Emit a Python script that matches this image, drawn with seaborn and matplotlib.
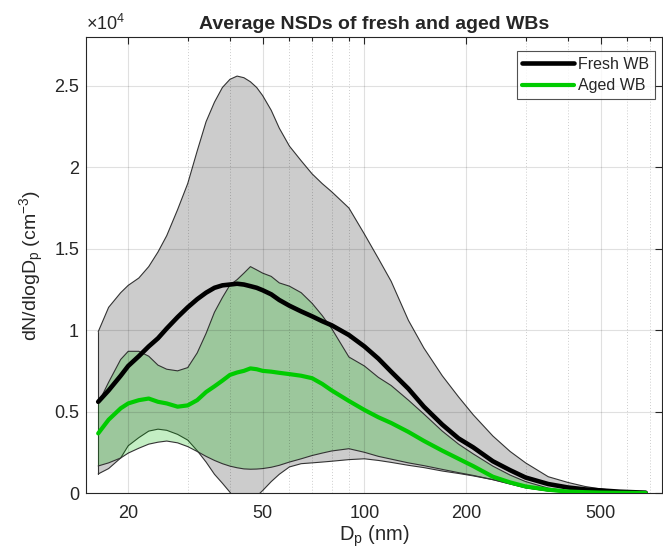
import numpy as np
import pandas as pd
import matplotlib
matplotlib.use("Agg")
import matplotlib.pyplot as plt
import seaborn as sns
from matplotlib.ticker import FixedLocator, NullFormatter
from matplotlib.lines import Line2D

# ---- data ----
dp = [16.3, 17.5, 19, 20, 21.5, 23, 24.5, 26, 28, 30, 32, 34, 36, 38, 40, 42, 44, 46, 48, 50,
      53, 56, 60, 65, 70, 75, 80, 90, 100, 110, 120, 135, 150, 170, 190, 210, 240, 270, 300,
      350, 400, 450, 500, 570, 680]
fresh_mean = [5600, 6300, 7200, 7800, 8400, 9000, 9500, 10100, 10800, 11400, 11900, 12300, 12600,
              12750, 12800, 12850, 12800, 12700, 12600, 12450, 12200, 11850, 11500, 11150, 10850,
              10550, 10300, 9700, 9000, 8250, 7450, 6400, 5300, 4200, 3350, 2800, 1950, 1400, 950,
              550, 340, 220, 160, 80, 20]
fresh_upper = [9900, 11400, 12300, 12750, 13200, 13900, 14800, 15800, 17400, 19000, 21000, 22800,
               24000, 24900, 25400, 25600, 25500, 25250, 24900, 24400, 23500, 22400, 21300, 20400,
               19600, 19000, 18500, 17500, 15900, 14400, 13000, 10600, 8900, 7200, 5900, 4800, 3500,
               2550, 1850, 1000, 650, 400, 250, 120, 20]
fresh_lower = [1170, 1500, 2150, 2900, 3400, 3800, 3920, 3850, 3600, 3250, 2600, 1900, 1150, 600,
               50, -600, -900, -700, -200, 150, 700, 1150, 1600, 1800, 1850, 1900, 1950, 2050, 2100,
               2000, 1880, 1700, 1560, 1350, 1200, 1050, 820, 550, 320, 130, 50, 20, 10, 5, 0]
aged_mean = [3660, 4500, 5200, 5500, 5700, 5800, 5600, 5500, 5300, 5380, 5700, 6200, 6550, 6900,
             7250, 7400, 7500, 7650, 7600, 7500, 7450, 7380, 7300, 7200, 7050, 6700, 6300, 5650,
             5100, 4650, 4300, 3750, 3200, 2600, 2100, 1650, 1000, 650, 400, 200, 90, 50, 25, 10, 0]
aged_upper = [5500, 6800, 8200, 8700, 8700, 8400, 7850, 7600, 7500, 7700, 8600, 9800, 11100, 12000,
              12770, 13100, 13500, 13900, 13700, 13500, 13300, 12900, 12700, 12300, 11650, 10900,
              10100, 8350, 7800, 7100, 6600, 5700, 4850, 3800, 3000, 2400, 1650, 1100, 700, 300,
              120, 60, 30, 10, 0]
aged_lower = [1660, 1850, 2150, 2450, 2750, 3000, 3120, 3190, 3080, 2850, 2550, 2250, 2000, 1800,
              1650, 1550, 1480, 1460, 1470, 1500, 1580, 1700, 1900, 2100, 2300, 2450, 2580, 2720,
              2500, 2250, 2080, 1850, 1680, 1450, 1250, 1080, 820, 560, 320, 120, 40, 15, 8, 3, 0]

xticks = [20, 50, 100, 200, 500]
xtick_labels = ["20", "50", "100", "200", "500"]
yticks = [0, 5000, 10000, 15000, 20000, 25000]
ytick_labels = ["0", "0.5", "1", "1.5", "2", "2.5"]
series_names = ["Fresh WB", "Aged WB"]

# ---- styling ----
sns.set_theme(style="white")
plt.rcParams["font.family"] = ["Liberation Sans", "DejaVu Sans"]
plt.rcParams["mathtext.default"] = "regular"
TXT = (0.15, 0.15, 0.15)
EDGE = (0.2, 0.2, 0.2)

fig = plt.figure(figsize=(6.63, 5.57), dpi=100)
ax = fig.add_axes([86 / 663, (557 - 493) / 557, (662 - 86) / 663, (493 - 37) / 557])

x = np.array(dp)
# grey band (fresh)
ax.fill_between(x, fresh_lower, fresh_upper, facecolor=(0.8, 0.8, 0.8), edgecolor="none", zorder=1)
ax.plot(x, fresh_upper, color=EDGE, lw=0.8, zorder=1.1)
ax.plot(x, fresh_lower, color=EDGE, lw=0.8, zorder=1.1)
ax.plot([x[0], x[0]], [fresh_lower[0], fresh_upper[0]], color=EDGE, lw=0.8, zorder=1.1)
# green band (aged)
ax.fill_between(x, aged_lower, aged_upper, facecolor=(0.0, 0.72, 0.0), alpha=0.23,
                edgecolor="none", zorder=1.2)
ax.plot(x, aged_upper, color=EDGE, lw=0.8, zorder=1.3)
ax.plot(x, aged_lower, color=EDGE, lw=0.8, zorder=1.3)

df = pd.DataFrame({
    "Dp": dp * 2,
    "N": fresh_mean + aged_mean,
    "type": [series_names[0]] * len(dp) + [series_names[1]] * len(dp),
})
sns.lineplot(data=df, x="Dp", y="N", hue="type", palette=["black", "#00cc00"],
             linewidth=3.0, ax=ax, zorder=3, legend=False)
ax.lines[-2].set_linewidth(3.3)

ax.set_xscale("log")
ax.set_xlim(15, 760)
ax.set_ylim(0, 28000)

ax.xaxis.set_major_locator(FixedLocator(xticks))
ax.set_xticklabels(xtick_labels)
minor = [30, 40, 60, 70, 80, 90, 300, 400, 600, 700]
ax.xaxis.set_minor_locator(FixedLocator(minor))
ax.xaxis.set_minor_formatter(NullFormatter())
ax.set_yticks(yticks)
ax.set_yticklabels(ytick_labels)

ax.set_axisbelow(False)
ax.grid(True, which="major", axis="both", color="black", alpha=0.12, lw=0.8, linestyle="-")
ax.grid(True, which="minor", axis="x", color="black", alpha=0.2, lw=0.7, linestyle=(0, (1, 2)))

ax.tick_params(axis="both", which="both", direction="in", top=True, right=True,
               labelsize=13, colors=TXT, length=5, width=0.8)
ax.tick_params(axis="x", which="minor", length=3)
ax.tick_params(axis="x", which="major", pad=9)
ax.tick_params(axis="y", which="major", pad=5)
for s in ax.spines.values():
    s.set_color(TXT)
    s.set_linewidth(0.8)

ax.set_xlabel("D$_p$ (nm)", fontsize=14.5, color=TXT, labelpad=1)
ax.set_ylabel("dN/dlogD$_p$ (cm$^{-3}$)", fontsize=14, color=TXT, labelpad=6)
ax.set_title("Average NSDs of fresh and aged WBs", fontsize=14, fontweight="bold", pad=6)
ax.text(0.0, 1.006, r"$\times$10$^4$", transform=ax.transAxes, fontsize=13,
        color=TXT, ha="left", va="bottom")

handles = [Line2D([], [], color="black", lw=3.3), Line2D([], [], color="#00cc00", lw=3.0)]
leg = ax.legend(handles, series_names, loc="upper right", bbox_to_anchor=(0.988, 0.969),
                fontsize=11.5, frameon=True, fancybox=False, handlelength=3.2,
                borderpad=0.35, labelspacing=0.4, handletextpad=0.3, borderaxespad=0)
leg.get_frame().set_edgecolor(TXT)
leg.get_frame().set_linewidth(0.8)

fig.savefig("out.png", dpi=100)
